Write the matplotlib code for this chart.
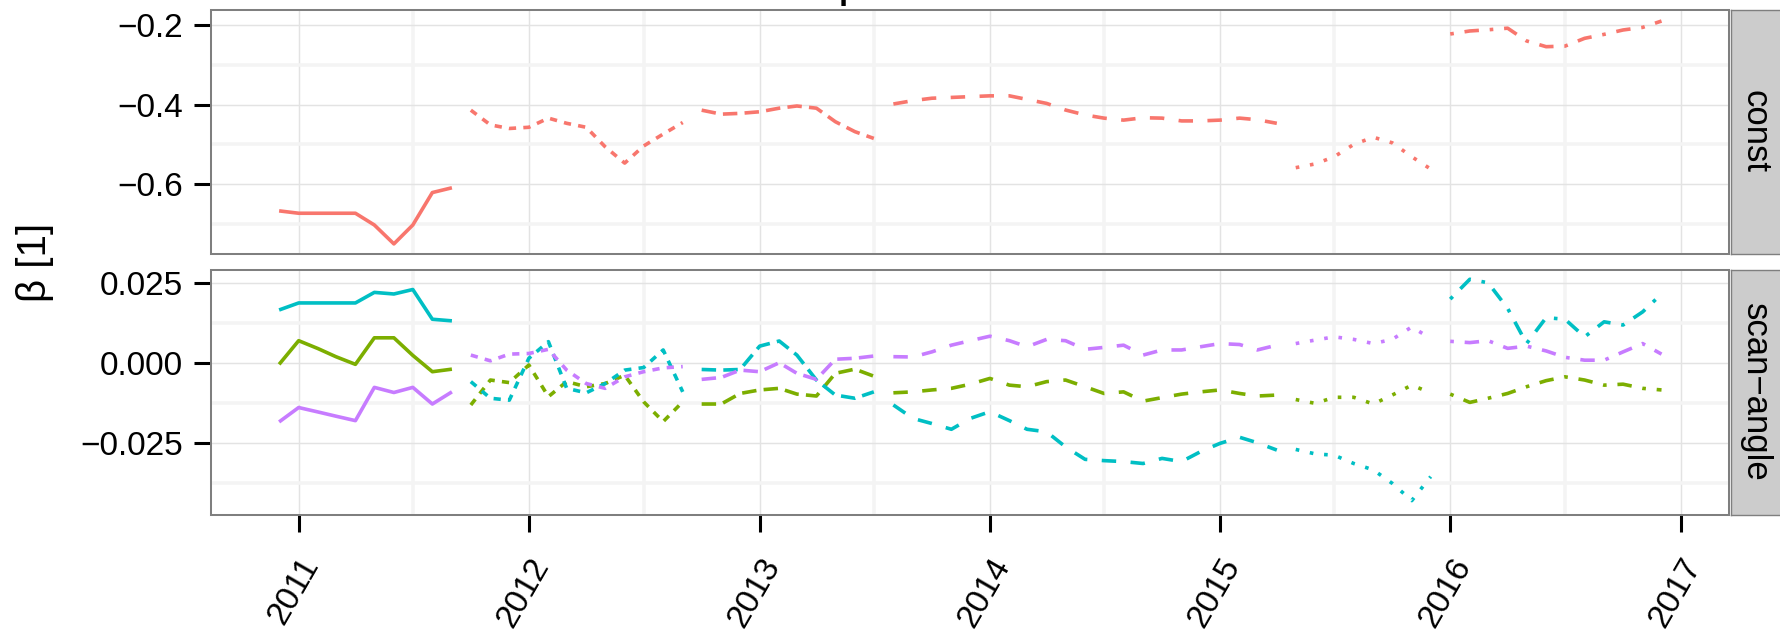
import matplotlib.pyplot as plt
import matplotlib.dates as mdates
import pandas as pd

plt.rcParams['font.family'] = ['Liberation Sans', 'DejaVu Sans']

# monthly segments (one linetype per segment)
seg_start = ['2010-12', '2011-10', '2012-10', '2013-08', '2015-05', '2016-01']
seg_end = ['2011-09', '2012-09', '2013-07', '2015-04', '2015-12', '2016-12']
seg_dash = [None, (2, 2), (4, 2), (4, 4), (1, 3), (1, 3, 4, 3)]

# panel "const"
const_red = [
    [-0.667, -0.673, -0.673, -0.673, -0.673, -0.7025, -0.750, -0.7025, -0.621, -0.609],
    [-0.414, -0.451, -0.460, -0.457, -0.434, -0.447, -0.457, -0.506, -0.547, -0.504, -0.474, -0.445],
    [-0.414, -0.424, -0.422, -0.418, -0.409, -0.4035, -0.409, -0.443, -0.468, -0.485],
    [-0.3985, -0.390, -0.384, -0.382, -0.380, -0.378, -0.378, -0.387, -0.397, -0.4136, -0.426,
     -0.434, -0.439, -0.433, -0.434, -0.441, -0.441, -0.439, -0.434, -0.438, -0.447],
    [-0.5585, -0.549, -0.531, -0.500, -0.482, -0.496, -0.531, -0.562],
    [-0.2226, -0.215, -0.212, -0.208, -0.240, -0.2545, -0.253, -0.2335, -0.2235, -0.2125, -0.206, -0.190],
]

# panel "scan-angle"
angle_green = [
    [-0.0003, 0.0071, 0.0046, 0.0021, -0.0003, 0.0080, 0.0080, 0.0025, -0.0026, -0.0018],
    [-0.0130, -0.0052, -0.0060, -0.0005, -0.0104, -0.0057, -0.0073, -0.0063, -0.0037, -0.0120, -0.0182, -0.0120],
    [-0.0127, -0.0127, -0.0094, -0.0083, -0.0078, -0.0096, -0.0102, -0.0031, -0.0018, -0.0040],
    [-0.0092, -0.0089, -0.0083, -0.0078, -0.0065, -0.0047, -0.0068, -0.0073, -0.0057, -0.0052, -0.0073,
     -0.0094, -0.0089, -0.0118, -0.0107, -0.0096, -0.0089, -0.0083, -0.0094, -0.0102, -0.0099],
    [-0.0113, -0.0125, -0.0106, -0.0106, -0.0127, -0.0099, -0.0068, -0.0092],
    [-0.0096, -0.0122, -0.0109, -0.0094, -0.0073, -0.0054, -0.0042, -0.0052, -0.0068, -0.0065, -0.0078, -0.0083],
]
angle_cyan = [
    [0.0167, 0.0189, 0.0189, 0.0189, 0.0189, 0.0222, 0.0217, 0.0231, 0.0138, 0.0133],
    [-0.0057, -0.0109, -0.0115, 0.0016, 0.0068, -0.0078, -0.0092, -0.0063, -0.0021, -0.0013, 0.0042, -0.0089],
    [-0.0019, -0.0021, -0.0019, 0.0054, 0.0070, 0.0026, -0.0052, -0.0099, -0.0109, -0.0089],
    [-0.0130, -0.0172, -0.0188, -0.0206, -0.0172, -0.0151, -0.0179, -0.0206, -0.0214, -0.0261, -0.0300,
     -0.0304, -0.0307, -0.0313, -0.0297, -0.0307, -0.0276, -0.0250, -0.0231, -0.0248, -0.0271],
    [-0.0269, -0.0283, -0.0287, -0.0313, -0.0333, -0.0375, -0.0429, -0.0354],
    [0.0201, 0.0263, 0.0252, 0.0172, 0.0062, 0.0143, 0.0138, 0.0083, 0.0130, 0.0120, 0.0161, 0.0217],
]
angle_purple = [
    [-0.0183, -0.0138, -0.0152, -0.0165, -0.0179, -0.0075, -0.0091, -0.0075, -0.0127, -0.0089],
    [0.0026, 0.0008, 0.0029, 0.0031, 0.0044, -0.0021, -0.0063, -0.0078, -0.0042, -0.0026, -0.0014, -0.0010],
    [-0.0050, -0.0044, -0.0021, -0.0026, 0.0002, -0.0031, -0.0050, 0.0013, 0.0016, 0.0023],
    [0.0021, 0.0020, 0.0036, 0.0057, 0.0071, 0.0085, 0.0071, 0.0052, 0.0075, 0.0071, 0.0044,
     0.0050, 0.0057, 0.0026, 0.0042, 0.0042, 0.0052, 0.0062, 0.0059, 0.0042, 0.0057],
    [0.0062, 0.0073, 0.0083, 0.0075, 0.0062, 0.0075, 0.0114, 0.0078],
    [0.0069, 0.0065, 0.0071, 0.0047, 0.0054, 0.0039, 0.0019, 0.0010, 0.0010, 0.0036, 0.0062, 0.0029],
]

const_ticks = [-0.6, -0.4, -0.2]
const_labels = ['\u22120.6', '\u22120.4', '\u22120.2']
angle_ticks = [-0.025, 0.0, 0.025]
angle_labels = ['\u22120.025', '0.000', '0.025']
strip_labels = ['const', 'scan\u2212angle']

RED, GREEN, CYAN, PURPLE = '#F8766D', '#7CAE00', '#00BFC4', '#C77CFF'
LW = 2.6

W, H = 1781, 630
fig = plt.figure(figsize=(W / 100, H / 100), dpi=100)

def px_box(x0, y0, x1, y1):
    return [x0 / W, 1 - y1 / H, (x1 - x0) / W, (y1 - y0) / H]

ax1 = fig.add_axes(px_box(211, 10, 1729, 254))
ax2 = fig.add_axes(px_box(211, 270, 1729, 515))

def draw(ax, series, color):
    for i in range(len(seg_start)):
        dates = pd.date_range(seg_start[i], seg_end[i], freq='MS')
        ls = '-' if seg_dash[i] is None else (0, seg_dash[i])
        ax.plot(dates, series[i], color=color, lw=LW, linestyle=ls,
                solid_capstyle='butt', dash_capstyle='butt')

draw(ax1, const_red, RED)
draw(ax2, angle_green, GREEN)
draw(ax2, angle_cyan, CYAN)
draw(ax2, angle_purple, PURPLE)

for ax in (ax1, ax2):
    ax.set_xlim(pd.Timestamp('2010-08-15'), pd.Timestamp('2017-03-18'))
    ax.xaxis.set_major_locator(mdates.YearLocator())
    ax.xaxis.set_minor_locator(mdates.MonthLocator(bymonth=7))
    ax.xaxis.set_major_formatter(mdates.DateFormatter('%Y'))
    ax.set_axisbelow(True)
    ax.grid(which='minor', color='#F4F4F4', lw=2.6)
    ax.grid(which='major', color='#E3E3E3', lw=1.05)
    for s in ax.spines.values():
        s.set_color('#7F7F7F')
        s.set_linewidth(1.45)
    ax.tick_params(which='minor', length=0)
    ax.tick_params(axis='y', which='major', length=12, width=2.2, color='black',
                   labelsize=24, pad=8)

ax1.set_ylim(-0.7754, -0.1623)
ax1.set_yticks(const_ticks)
ax1.set_yticklabels(const_labels)
ax1.set_yticks([-0.7, -0.5, -0.3], minor=True)
ax1.tick_params(axis='x', which='major', length=0, labelbottom=False)

ax2.set_ylim(-0.0474, 0.0292)
ax2.set_yticks(angle_ticks)
ax2.set_yticklabels(angle_labels)
ax2.set_yticks([-0.0375, -0.0125, 0.0125], minor=True)
ax2.tick_params(axis='x', which='major', length=12, width=2.2, color='black',
                labelsize=24, pad=15)
for lab in ax2.get_xticklabels():
    lab.set_rotation(60)
    lab.set_ha('right')
    lab.set_va('top')
    lab.set_rotation_mode('anchor')

# facet strips
for (y0, y1), label in zip([(10, 254), (270, 515)], strip_labels):
    sx = fig.add_axes(px_box(1731, y0, 1781, y1))
    sx.set_facecolor('#CCCCCC')
    sx.set_xticks([])
    sx.set_yticks([])
    for s in sx.spines.values():
        s.set_color('#7F7F7F')
        s.set_linewidth(1.0)
    sx.text(0.48, 0.5, label, rotation=-90, ha='center', va='center',
            fontsize=25, transform=sx.transAxes)

fig.text(35 / W, 1 - 262 / H, '\u03b2 [1]', rotation=90, ha='center', va='center', fontsize=29)
# title is cut off by the top edge of the picture
fig.text(838 / W, 1 + 4 / H, 'p', ha='left', va='baseline', fontsize=36)

fig.savefig('out.png', dpi=100)
